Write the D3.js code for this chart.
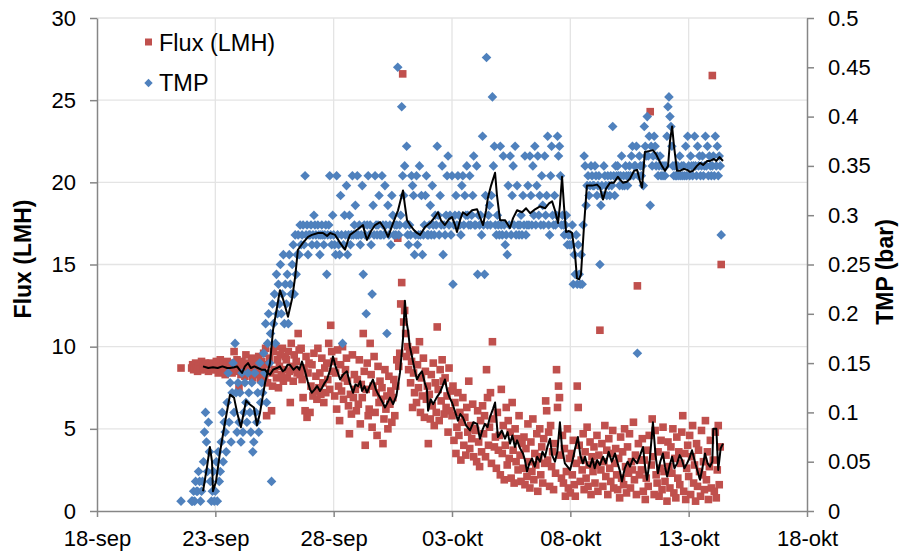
<!DOCTYPE html>
<html>
<head>
<meta charset="utf-8">
<script src="https://cdn.jsdelivr.net/npm/d3@7"></script>
<style>
  body { margin: 0; background: #fff; }
  text { font-family: "Liberation Sans", Arial, sans-serif; fill: #000; }
</style>
</head>
<body>
<svg id="chart" width="909" height="554"></svg>
<script>
// time is in days counted from 18-sep 00:00, the logger gives one value per hour from 22-sep 00:00
const hourlyStart = 4;

const xTickDays = [0, 5, 10, 15, 20, 25, 30];
const xTickLabels = ["18-sep", "23-sep", "28-sep", "03-okt", "08-okt", "13-okt", "18-okt"];
const fluxTicks = [0, 5, 10, 15, 20, 25, 30];
const tmpTicks = [0, 0.05, 0.1, 0.15, 0.2, 0.25, 0.3, 0.35, 0.4, 0.45, 0.5];
const tmpTickLabels = ["0", "0.05", "0.1", "0.15", "0.2", "0.25", "0.3", "0.35", "0.4", "0.45", "0.5"];

// first lone reading [day, value]
const fluxFirst = [3.55, 8.7];
const tmpFirst = [3.55, 0.01];

// Flux (LMH), hourly, 22-sep .. 28-sep
const fluxWeek1 = [
  8.7,8.9,8.6,8.8,9.0,8.7,8.5,8.9,8.8,8.6,9.1,8.7,8.8,8.6,9.0,8.9,8.7,8.5,8.8,9.0,8.6,8.9,8.7,8.8,
  8.6,9.1,8.7,8.4,8.9,9.2,8.8,8.5,9.0,8.6,8.3,8.9,9.1,8.7,8.5,9.0,8.8,8.4,8.6,9.7,8.9,8.5,9.2,8.7,
  7.5,8.8,8.3,9.1,8.6,8.9,8.2,9.5,8.7,8.4,9.0,8.6,8.8,9.3,8.1,8.7,9.2,8.5,8.9,8.3,9.4,8.6,8.0,9.1,
  8.7,9.6,8.2,9.9,5.8,7.8,8.9,9.3,8.4,6.1,7.6,9.7,8.6,10.0,8.1,9.2,7.5,8.8,9.5,8.3,9.9,7.9,8.6,9.4,
  9.2,8.1,9.7,8.5,6.6,10.2,8.8,7.9,9.5,8.6,9.1,8.4,10.8,9.8,8.3,9.9,8.0,6.9,8.7,6.1,9.4,5.7,8.4,9.0,
  6.0,7.6,8.9,7.0,9.6,7.3,8.2,6.8,9.9,7.5,8.4,7.1,9.3,7.8,6.6,8.7,7.2,9.0,8.0,10.2,7.4,11.3,9.7,8.5,
  9.1,7.0,8.4,6.2,9.8,7.6,5.5,8.9,7.3,10.0,6.8,8.1,8.6,9.3,7.9,6.4,4.7,7.1,5.9,9.5,6.9,8.3,7.4,6.1
];
// Flux (LMH), hourly, 29-sep .. 05-okt
const fluxWeek2 = [
  8.0,6.5,9.2,5.3,7.7,6.9,10.8,8.5,4.0,7.4,9.0,5.8,6.2,10.2,8.3,5.1,7.6,9.4,6.0,7.2,4.6,8.8,6.6,7.9,
  6.8,7.5,4.1,5.6,8.6,6.2,7.0,5.0,8.2,6.5,7.3,5.4,6.9,8.0,5.8,7.6,9.2,16.6,8.8,9.6,12.6,13.9,26.6,11.5,
  12.2,10.8,9.4,10.0,8.6,9.7,7.8,9.1,6.3,8.4,7.2,9.8,6.6,8.9,7.5,10.3,6.0,8.1,7.0,9.3,5.7,8.5,6.8,7.6,
  4.1,7.1,5.6,8.3,6.4,9.0,5.2,7.8,6.0,11.2,7.4,5.5,8.6,6.7,9.2,7.9,5.9,8.1,6.3,7.0,4.8,8.7,6.1,7.3,
  5.8,7.6,4.3,6.6,3.5,5.1,7.2,4.6,6.0,3.1,5.4,6.9,4.0,5.7,3.4,6.3,4.8,7.9,3.8,5.2,4.4,6.5,3.3,5.0,
  4.9,3.0,6.1,4.2,2.7,5.5,3.6,6.4,4.7,5.8,3.3,8.6,6.9,4.0,5.1,7.2,2.9,10.3,5.6,3.9,4.5,2.6,6.0,3.7,
  4.6,2.2,7.4,3.5,5.2,1.9,4.0,6.3,2.8,5.5,3.2,4.8,2.0,6.6,3.7,1.7,5.0,3.0,4.4,2.5,5.8,3.4,1.8,4.1
];
// Flux (LMH), hourly, 06-okt .. 12-okt
const fluxWeek3 = [
  2.6,4.5,1.6,3.8,2.1,5.3,3.0,1.4,4.2,2.4,5.6,1.9,3.5,2.8,4.7,1.2,3.3,5.0,2.2,3.9,1.7,4.4,2.9,6.7,
  6.1,3.1,4.8,1.5,5.2,2.7,3.6,1.3,4.1,2.3,8.6,6.3,7.6,6.9,3.4,2.0,4.6,1.7,3.8,0.9,2.4,5.0,1.4,3.2,
  1.1,3.5,2.2,4.3,1.6,0.9,2.9,7.6,6.3,4.0,1.8,3.1,2.5,4.7,1.3,3.6,2.0,5.1,1.5,2.8,4.2,1.0,3.3,2.4,
  3.9,1.7,2.8,4.6,1.2,3.4,11.0,2.5,4.1,1.5,3.0,5.2,2.1,3.7,1.0,4.4,2.6,1.8,3.5,4.9,1.4,2.9,3.8,2.2,
  1.3,3.2,0.8,4.5,2.0,3.6,1.6,5.0,2.7,1.1,3.9,2.3,4.7,1.4,3.0,2.5,5.4,1.9,3.4,1.0,13.7,4.1,2.2,3.1,
  2.5,4.4,1.2,3.1,0.7,2.0,3.7,1.5,4.6,24.3,2.8,5.6,3.3,1.0,4.9,2.2,1.7,3.6,0.9,2.6,4.3,1.3,5.1,2.4,
  1.8,3.4,0.6,4.2,2.7,1.4,3.9,2.3,5.0,1.1,3.2,0.8,4.5,2.0,3.6,1.6,2.9,4.8,5.8,1.2,3.5,0.7,2.6,4.0
];
// Flux (LMH), hourly, 13-okt .. 14-okt
const fluxWeek4 = [
  2.1,4.6,1.0,3.3,5.2,1.7,2.8,0.6,4.1,1.5,3.7,2.4,0.9,4.9,2.2,3.0,1.3,5.5,1.9,3.6,0.7,2.7,4.3,1.4,
  26.5,3.1,1.2,4.8,0.8,2.5,5.2,1.6,3.9,15.0
];

// TMP in hundredths of a bar, hourly, 22-sep .. 28-sep
const tmpWeek1 = [
  1,1,2,1,3,2,2,4,3,1,2,3,5,8,10,7,4,9,6,3,1,2,4,1,
  2,5,1,6,3,4,7,10,5,9,8,6,11,14,9,13,7,12,15,10,17,12,8,13,
  9,12,7,14,8,10,13,11,9,14,12,10,8,13,6,7,14,10,9,12,8,15,11,13,
  12,16,14,19,11,17,20,15,18,3,21,19,22,17,24,20,23,21,25,20,22,26,19,23,
  21,24,19,26,23,22,25,27,22,28,24,26,28,26,29,27,28,29,27,34,28,29,26,28,
  28,29,27,28,30,29,28,27,29,28,26,28,29,28,27,28,29,24,28,29,34,28,27,30,
  28,27,26,34,28,27,26,32,28,17,27,30,28,33,26,28,30,27,28,34,28,29,31,28
];
// TMP in hundredths of a bar, hourly, 29-sep .. 05-okt
const tmpWeek2 = [
  34,28,29,27,28,33,24,29,28,20,29,34,28,29,27,22,31,28,34,29,28,29,32,28,
  28,34,29,28,33,29,18,31,28,29,27,32,30,28,29,28,29,45,28,29,30,41,34,32,
  35,29,37,28,27,29,28,34,33,32,26,28,34,27,28,35,28,32,26,28,29,32,34,28,
  28,29,31,28,33,29,28,30,29,37,30,28,32,29,35,26,29,28,30,34,36,29,30,28,
  34,23,29,30,32,29,34,30,29,28,33,34,29,32,30,35,30,29,34,29,30,32,36,29,
  29,35,24,30,29,30,28,38,29,24,32,46,29,30,31,29,32,42,35,37,29,28,30,29,
  28,37,29,28,36,29,27,28,26,33,29,36,28,32,35,29,37,28,33,29,28,29,30,28
];
// TMP in hundredths of a bar, hourly, 06-okt .. 12-okt
const tmpWeek3 = [
  32,29,36,28,29,33,29,36,32,29,35,30,37,29,33,36,30,32,29,34,31,29,36,30,
  32,38,29,28,34,37,30,29,32,29,30,38,36,37,34,29,30,29,28,29,30,27,28,27,
  28,27,29,23,26,24,28,23,27,24,23,26,23,29,36,35,31,33,34,32,33,35,34,33,
  33,35,34,32,33,34,25,31,33,32,35,34,33,32,34,33,32,34,33,39,34,32,35,34,
  35,34,33,34,36,33,34,33,35,34,33,34,35,34,36,37,34,35,35,37,16,34,36,35,
  34,35,33,39,37,36,40,36,38,31,37,35,36,38,37,35,36,34,35,36,34,35,34,35,
  34,35,38,41,42,40,39,37,35,34,35,34,34,35,34,36,34,35,34,35,34,37,34,38
];
// TMP in hundredths of a bar, hourly, 13-okt .. 14-okt
const tmpWeek4 = [
  35,34,36,35,34,35,38,35,34,37,35,36,34,35,36,34,35,38,35,37,34,36,35,34,
  35,36,34,38,35,37,34,36,35,28
];

// moving average of Flux, [day, LMH]
const fluxAvg = [
  [4.48,8.8],[4.7,8.7],[4.9,8.75],[5.1,8.7],[5.3,8.8],[5.5,8.7],[5.62,8.7],[5.8,8.75],[5.92,8.8],[6.02,8.6],
  [6.13,8.4],[6.25,8.8],[6.38,9.0],[6.5,8.7],[6.65,8.8],[6.8,8.7],[6.95,8.6],[7.1,8.6],[7.2,8.4],[7.31,8.3],
  [7.44,8.6],[7.6,8.7],[7.73,8.8],[7.85,8.5],[7.94,8.6],[8.05,8.9],[8.15,8.9],[8.3,8.6],[8.45,8.8],[8.55,8.6],
  [8.66,9.1],[8.79,8.5],[8.9,7.9],[9.0,7.4],[9.08,7.2],[9.2,7.4],[9.3,7.6],[9.42,7.3],[9.51,7.5],[9.62,7.8],
  [9.72,8.0],[9.85,8.6],[9.97,9.4],[10.08,8.8],[10.18,8.4],[10.27,8.0],[10.4,8.3],[10.56,8.5],[10.68,7.8],[10.82,7.2],
  [10.92,7.7],[11.03,7.6],[11.12,7.9],[11.2,7.3],[11.3,7.6],[11.41,7.2],[11.52,7.6],[11.66,8.0],[11.78,7.4],[11.88,7.1],
  [11.96,6.9],[12.07,6.6],[12.17,6.3],[12.28,6.6],[12.38,6.9],[12.51,6.5],[12.65,7.0],[12.8,8.4],[12.93,10.5],[13.01,12.8],
  [13.08,11.5],[13.14,11.0],[13.22,10.0],[13.31,9.4],[13.42,8.6],[13.52,8.0],[13.62,8.3],[13.73,8.5],[13.85,7.8],[13.94,7.4],
  [13.99,6.1],[14.1,6.8],[14.2,6.5],[14.35,6.9],[14.49,7.2],[14.6,7.6],[14.7,8.0],[14.8,7.3],[14.9,6.9],[15.0,6.6],
  [15.12,6.1],[15.25,5.5],[15.35,5.9],[15.46,5.7],[15.6,5.2],[15.76,4.9],[15.9,5.4],[16.06,5.3],[16.18,4.4],[16.28,4.9],
  [16.39,5.3],[16.5,5.1],[16.6,5.7],[16.73,6.2],[16.82,6.6],[16.94,4.5],[17.03,4.7],[17.1,4.9],[17.24,4.4],[17.35,4.8],
  [17.45,4.1],[17.55,4.6],[17.66,3.9],[17.75,4.3],[17.88,3.8],[18.0,3.5],[18.08,3.1],[18.17,2.4],[18.27,2.9],[18.38,3.2],
  [18.5,2.7],[18.6,3.3],[18.72,3.0],[18.82,3.6],[18.93,3.3],[19.03,3.9],[19.14,4.4],[19.23,3.4],[19.35,3.0],[19.45,3.6],
  [19.56,5.4],[19.65,3.8],[19.77,2.9],[19.88,2.7],[19.99,2.5],[20.1,3.1],[20.2,3.8],[20.32,4.5],[20.42,3.4],[20.53,2.9],
  [20.62,3.3],[20.72,2.8],[20.83,2.7],[20.93,3.2],[21.03,2.6],[21.13,3.1],[21.25,2.8],[21.38,3.3],[21.5,2.9],[21.62,3.6],
  [21.75,3.0],[21.89,3.5],[22.0,2.9],[22.1,2.4],[22.18,1.8],[22.3,2.6],[22.42,3.0],[22.52,2.7],[22.65,3.2],[22.82,2.9],
  [22.95,3.4],[23.07,3.9],[23.15,2.8],[23.24,1.9],[23.35,3.0],[23.49,5.4],[23.6,3.4],[23.7,2.3],[23.8,3.0],[23.91,3.5],
  [24.0,2.7],[24.09,2.1],[24.2,2.8],[24.3,3.3],[24.4,2.6],[24.51,2.9],[24.62,3.4],[24.72,3.1],[24.82,2.6],[24.93,2.9],
  [25.03,3.2],[25.14,3.7],[25.3,2.8],[25.48,1.9],[25.58,2.6],[25.69,3.5],[25.8,2.9],[25.9,2.7],[26.0,3.0],[26.04,5.0],
  [26.17,5.0],[26.22,3.4],[26.25,2.5],[26.35,3.8],[26.45,4.1]
];

// moving average of TMP, [day, bar]
const tmpAvg = [
  [4.48,0.02],[4.65,0.045],[4.77,0.065],[4.86,0.05],[4.9,0.02],[5.03,0.03],[5.2,0.06],[5.41,0.09],[5.62,0.118],[5.79,0.115],
  [5.92,0.1],[6.08,0.085],[6.3,0.112],[6.46,0.108],[6.63,0.105],[6.76,0.087],[6.89,0.1],[7.1,0.13],[7.31,0.15],[7.44,0.184],
  [7.56,0.2],[7.73,0.224],[7.86,0.215],[8.07,0.197],[8.24,0.215],[8.37,0.237],[8.49,0.265],[8.7,0.272],[8.92,0.278],[9.08,0.28],
  [9.34,0.282],[9.55,0.282],[9.72,0.279],[9.85,0.282],[10.06,0.28],[10.27,0.272],[10.48,0.265],[10.61,0.275],[10.69,0.28],[10.86,0.283],
  [11.03,0.286],[11.24,0.29],[11.32,0.282],[11.41,0.275],[11.58,0.284],[11.75,0.29],[11.96,0.293],[12.13,0.287],[12.3,0.278],[12.51,0.292],
  [12.72,0.305],[12.93,0.325],[13.01,0.31],[13.1,0.295],[13.23,0.29],[13.39,0.285],[13.52,0.282],[13.65,0.28],[13.86,0.288],[14.07,0.292],
  [14.24,0.297],[14.41,0.303],[14.53,0.295],[14.7,0.29],[14.87,0.296],[15.0,0.298],[15.13,0.29],[15.21,0.283],[15.34,0.295],[15.46,0.303],
  [15.63,0.3],[15.85,0.305],[16.06,0.306],[16.18,0.298],[16.31,0.29],[16.44,0.305],[16.52,0.318],[16.65,0.33],[16.82,0.343],[16.9,0.32],
  [17.03,0.295],[17.24,0.295],[17.45,0.287],[17.58,0.297],[17.75,0.305],[17.96,0.303],[18.13,0.307],[18.3,0.302],[18.51,0.306],[18.72,0.309],
  [18.93,0.307],[19.1,0.312],[19.23,0.314],[19.35,0.305],[19.48,0.292],[19.56,0.31],[19.65,0.339],[19.73,0.31],[19.82,0.283],[19.94,0.284],
  [20.07,0.282],[20.2,0.26],[20.28,0.236],[20.37,0.235],[20.45,0.24],[20.58,0.29],[20.7,0.33],[20.92,0.33],[21.13,0.331],[21.25,0.328],
  [21.38,0.316],[21.51,0.327],[21.68,0.333],[21.84,0.333],[22.01,0.339],[22.1,0.336],[22.22,0.333],[22.39,0.334],[22.52,0.337],[22.69,0.345],
  [22.82,0.346],[22.94,0.335],[23.03,0.328],[23.15,0.364],[23.32,0.365],[23.49,0.366],[23.62,0.362],[23.7,0.358],[23.87,0.35],[24.0,0.345],
  [24.13,0.35],[24.21,0.375],[24.3,0.39],[24.38,0.37],[24.51,0.345],[24.63,0.345],[24.8,0.347],[24.93,0.346],[25.06,0.344],[25.18,0.345],
  [25.35,0.35],[25.48,0.353],[25.61,0.351],[25.78,0.355],[25.9,0.355],[26.07,0.357],[26.17,0.355],[26.3,0.359],[26.45,0.355]
];

const RED = "#C0504D";
const BLUE = "#4F81BD";
const AXIS = "#868686";
const GRID = "#e4e4e4";

const plot = { left: 97, right: 807, top: 18, bottom: 511 };

const svg = d3.select("#chart");

const xScale = d3.scaleLinear().domain([0, 30]).range([plot.left, plot.right]);
const yFlux = d3.scaleLinear().domain([0, 30]).range([plot.bottom, plot.top]);
const yTmp = d3.scaleLinear().domain([0, 0.5]).range([plot.bottom, plot.top]);

/**
 * Turns an hourly list into {t, v} points.
 */
function toHourly(values, start, scale) {
  return values.map((v, i) => ({ t: start + i / 24, v: v / scale }));
}

const fluxPoints = [{ t: fluxFirst[0], v: fluxFirst[1] }]
  .concat(toHourly([...fluxWeek1, ...fluxWeek2, ...fluxWeek3, ...fluxWeek4], hourlyStart, 1));
const tmpPoints = [{ t: tmpFirst[0], v: tmpFirst[1] }]
  .concat(toHourly([...tmpWeek1, ...tmpWeek2, ...tmpWeek3, ...tmpWeek4], hourlyStart, 100));

// gridlines
svg.append("g")
  .selectAll("line.hgrid")
  .data(fluxTicks.slice(1))
  .join("line")
  .attr("x1", plot.left).attr("x2", plot.right)
  .attr("y1", d => yFlux(d)).attr("y2", d => yFlux(d))
  .attr("stroke", GRID).attr("stroke-width", 1.3);

svg.append("g")
  .selectAll("line.vgrid")
  .data(xTickDays.slice(1, -1))
  .join("line")
  .attr("x1", d => xScale(d)).attr("x2", d => xScale(d))
  .attr("y1", plot.top).attr("y2", plot.bottom)
  .attr("stroke", GRID).attr("stroke-width", 1.3);

// axes
const xAxis = svg.append("g")
  .attr("transform", "translate(0," + plot.bottom + ")")
  .call(d3.axisBottom(xScale).tickValues(xTickDays).tickSize(6).tickSizeOuter(0).tickPadding(13)
    .tickFormat((d, i) => xTickLabels[i]));

const leftAxis = svg.append("g")
  .attr("transform", "translate(" + plot.left + ",0)")
  .call(d3.axisLeft(yFlux).tickValues(fluxTicks).tickSize(7).tickSizeOuter(0).tickPadding(14)
    .tickFormat(d => d));

const rightAxis = svg.append("g")
  .attr("transform", "translate(" + plot.right + ",0)")
  .call(d3.axisRight(yTmp).tickValues(tmpTicks).tickSize(7).tickSizeOuter(0).tickPadding(14)
    .tickFormat((d, i) => tmpTickLabels[i]));

[xAxis, leftAxis, rightAxis].forEach(g => {
  g.selectAll("path, line").attr("stroke", AXIS).attr("stroke-width", 1.5);
  g.selectAll("text").style("font-size", "22px").attr("fill", "#000");
});

// axis titles
svg.append("text")
  .attr("transform", "translate(31,259) rotate(-90)")
  .attr("text-anchor", "middle")
  .style("font-size", "23px").style("font-weight", "bold")
  .text("Flux (LMH)");

svg.append("text")
  .attr("transform", "translate(893,272) rotate(-90)")
  .attr("text-anchor", "middle")
  .style("font-size", "23px").style("font-weight", "bold")
  .text("TMP (bar)");

const diamond = s => "M0," + (-s) + "L" + s + ",0L0," + s + "L" + (-s) + ",0Z";

// Flux squares
svg.append("g")
  .selectAll("rect")
  .data(fluxPoints)
  .join("rect")
  .attr("x", d => xScale(d.t) - 3.8)
  .attr("y", d => yFlux(d.v) - 3.8)
  .attr("width", 7.6).attr("height", 7.6)
  .attr("fill", RED);

// TMP diamonds
svg.append("g")
  .selectAll("path")
  .data(tmpPoints)
  .join("path")
  .attr("transform", d => "translate(" + xScale(d.t) + "," + yTmp(d.v) + ")")
  .attr("d", diamond(4.8))
  .attr("fill", BLUE);

// moving average lines
svg.append("path")
  .datum(fluxAvg)
  .attr("d", d3.line().x(d => xScale(d[0])).y(d => yFlux(d[1])))
  .attr("fill", "none").attr("stroke", "#000").attr("stroke-width", 2)
  .attr("stroke-linejoin", "round");

svg.append("path")
  .datum(tmpAvg)
  .attr("d", d3.line().x(d => xScale(d[0])).y(d => yTmp(d[1])))
  .attr("fill", "none").attr("stroke", "#000").attr("stroke-width", 2)
  .attr("stroke-linejoin", "round");

// legend
const legend = svg.append("g");
legend.append("rect")
  .attr("x", 145).attr("y", 38.5).attr("width", 7).attr("height", 7)
  .attr("fill", RED);
legend.append("text")
  .attr("x", 159).attr("y", 51)
  .style("font-size", "23.5px")
  .text("Flux (LMH)");
legend.append("path")
  .attr("transform", "translate(148.5,83)")
  .attr("d", diamond(4.2))
  .attr("fill", BLUE);
legend.append("text")
  .attr("x", 159).attr("y", 91)
  .style("font-size", "23.5px")
  .text("TMP");
</script>
</body>
</html>
